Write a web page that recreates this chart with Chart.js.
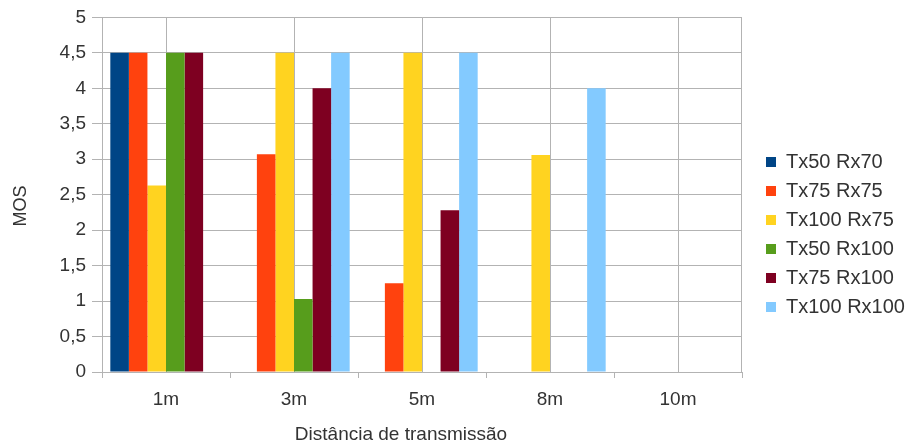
<!DOCTYPE html>
<html>
<head>
<meta charset="utf-8">
<script src="https://cdn.jsdelivr.net/npm/chart.js@4/dist/chart.umd.min.js"></script>
<style>
  body { margin: 0; background: #fff; }
  #wrap { width: 905px; height: 445px; }
</style>
</head>
<body>
<div id="wrap"><canvas id="mos"></canvas></div>
<script>
const distances = ["1m", "3m", "5m", "8m", "10m"];
const seriesNames = ["Tx50 Rx70", "Tx75 Rx75", "Tx100 Rx75", "Tx50 Rx100", "Tx75 Rx100", "Tx100 Rx100"];
const tx50rx70 = [4.5, null, null, null, null];
const tx75rx75 = [4.5, 3.07, 1.25, null, null];
const tx100rx75 = [2.63, 4.5, 4.5, 3.06, null];
const tx50rx100 = [4.5, 1.03, null, null, null];
const tx75rx100 = [4.5, 4.0, 2.28, null, null];
const tx100rx100 = [null, 4.5, 4.5, 4.0, null];
const colors = ["#004586", "#ff420e", "#ffd320", "#579d1c", "#7e0021", "#83caff"];
const xTitle = "Distância de transmissão";
const yTitle = "MOS";

const gridColor = "#b3b3b3";
const textColor = "#333";

// marcas do eixo x entre categorias, borda direita e títulos dos eixos
const frameMarks = {
  id: "frameMarks",
  afterDraw(chart) {
    const { ctx, chartArea, scales } = chart;
    const x = scales.x;
    const step = (chartArea.right - chartArea.left) / distances.length;
    ctx.save();
    ctx.strokeStyle = gridColor;
    ctx.lineWidth = 1;
    ctx.beginPath();
    for (let i = 0; i <= distances.length; i++) {
      const px = Math.round(x.left + i * step) + 0.5;
      ctx.moveTo(px, chartArea.bottom);
      ctx.lineTo(px, chartArea.bottom + 6);
    }
    const r = Math.round(chartArea.right) - 0.5;
    ctx.moveTo(r, chartArea.top);
    ctx.lineTo(r, chartArea.bottom);
    ctx.stroke();

    ctx.fillStyle = textColor;
    ctx.textAlign = "center";
    ctx.textBaseline = "middle";
    ctx.font = "19px 'Liberation Sans'";
    ctx.fillText(xTitle, 401, 435);
    ctx.translate(21, 206);
    ctx.rotate(-Math.PI / 2);
    ctx.font = "18px 'Liberation Sans'";
    ctx.fillText(yTitle, 0, 0);
    ctx.restore();
  }
};

// legenda: largura fixa e deslocada para a direita
const legendPlace = {
  id: "legendPlace",
  beforeLayout(chart) {
    const lg = chart.legend;
    if (lg && !lg._fixed) {
      const fit = lg.fit.bind(lg);
      lg.fit = function () { fit(); this.width = 163; };
      lg._fixed = true;
    }
  },
  afterLayout(chart) {
    const lg = chart.legend;
    lg.left += 15;
    lg.right += 15;
    lg.top += 4;
    lg.bottom += 4;
  }
};

new Chart(document.getElementById("mos"), {
  type: "bar",
  data: {
    labels: distances,
    datasets: [tx50rx70, tx75rx75, tx100rx75, tx50rx100, tx75rx100, tx100rx100].map((d, i) => ({
      label: seriesNames[i],
      data: d,
      backgroundColor: colors[i],
      borderWidth: 0
    }))
  },
  options: {
    responsive: true,
    maintainAspectRatio: false,
    animation: false,
    categoryPercentage: 0.87,
    barPercentage: 1,
    layout: { padding: { top: 16, right: 0, left: 0, bottom: 0 } },
    plugins: {
      legend: {
        position: "right",
        labels: {
          boxWidth: 10,
          boxHeight: 10,
          padding: 9,
          color: textColor,
          font: { family: "Liberation Sans", size: 20 }
        }
      },
      tooltip: { enabled: false }
    },
    scales: {
      x: {
        grid: { color: gridColor, offset: false, drawTicks: false },
        border: { color: gridColor },
        ticks: { color: textColor, padding: 16, font: { family: "Liberation Sans", size: 19 } },
        afterFit(scale) { scale.height = 73; }
      },
      y: {
        min: 0,
        max: 5,
        ticks: {
          stepSize: 0.5,
          color: textColor,
          padding: 6,
          font: { family: "Liberation Sans", size: 19 },
          callback: (v) => String(v).replace(".", ",")
        },
        grid: { color: gridColor, tickLength: 10 },
        border: { color: gridColor },
        afterFit(scale) { scale.width = 102; }
      }
    }
  },
  plugins: [frameMarks, legendPlace]
});
</script>
</body>
</html>
